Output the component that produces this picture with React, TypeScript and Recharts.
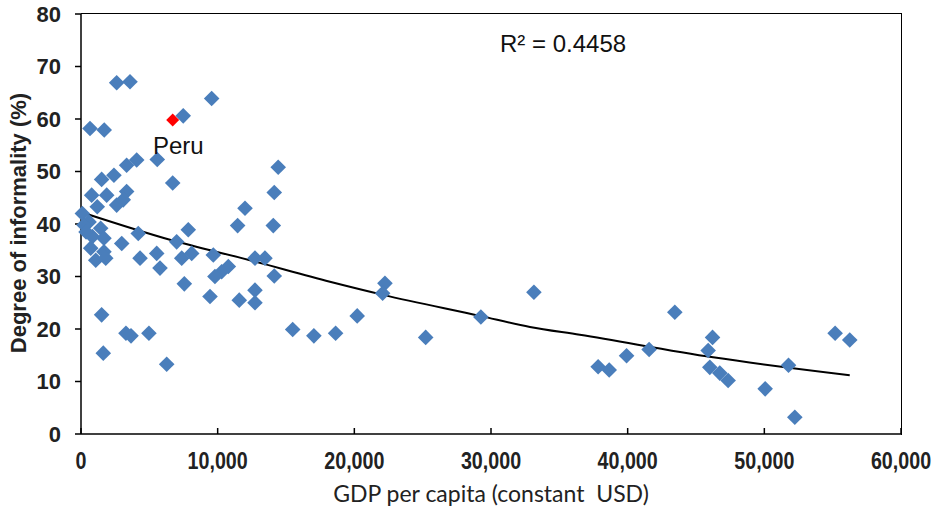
import { ComposedChart, Scatter, Line, XAxis, YAxis } from 'recharts'

// GDP per capita (constant USD) and degree of informality (%) per country
const gdp = [
  2610, 3585, 9560, 7480, 660, 1700, 5580, 4075, 3340, 2410, 1510, 6710, 780, 1880, 3340, 2610, 3090, 12000,
  14430, 14140, 11460, 14070, 7850, 4190, 2980, 7000, 4320, 5540, 5780, 7370, 8100, 9680, 10780, 10290, 9800,
  12730, 13460, 14140, 7560, 12730, 9440, 11580, 12730, 1510, 3290, 3660, 4970, 1630, 6270, 15490, 17040, 18630,
  20210, 22240, 22070, 25220, 29260, 33140, 37840, 38650, 39920, 43450, 41570, 46210, 45890, 46010, 46740, 47350,
  50060, 51770, 52230, 55180, 56250, 100, 590, 1440, 830, 1680, 710, 1680, 1080, 1810, 1190, 220, 370,
]
const informality = [
  66.9, 67.1, 63.9, 60.6, 58.2, 57.9, 52.3, 52.2, 51.2, 49.3, 48.5, 47.8, 45.5, 45.5, 46.2, 43.6, 44.6, 43.0,
  50.8, 46.0, 39.7, 39.7, 38.9, 38.2, 36.3, 36.6, 33.5, 34.4, 31.6, 33.5, 34.4, 34.1, 31.9, 30.9, 30.0,
  33.5, 33.5, 30.1, 28.6, 27.4, 26.2, 25.5, 25.0, 22.7, 19.2, 18.7, 19.2, 15.4, 13.3, 19.9, 18.7, 19.2,
  22.5, 28.7, 26.8, 18.4, 22.3, 27.0, 12.8, 12.2, 14.9, 23.2, 16.1, 18.4, 15.9, 12.7, 11.6, 10.2,
  8.6, 13.1, 3.2, 19.2, 17.9, 42.0, 40.4, 39.2, 37.6, 37.3, 35.4, 34.7, 33.1, 33.5, 43.3, 39.8, 38.5,
]

const peruGdp = [6710]
const peruInformality = [59.8]

// fitted trend line
const trendGdp = [200, 6510, 12360, 18215, 22110, 29190, 32850, 36500, 46250, 56250]
const trendInformality = [42.1, 37.0, 33.1, 29.0, 26.5, 22.5, 20.4, 18.9, 14.6, 11.2]

const xTicks = [0, 10000, 20000, 30000, 40000, 50000, 60000]
const yTicks = [0, 10, 20, 30, 40, 50, 60, 70, 80]

const points = gdp.map((x, i) => ({ x, y: informality[i] }))
const peru = peruGdp.map((x, i) => ({ x, y: peruInformality[i] }))
const trend = trendGdp.map((x, i) => ({ x, y: trendInformality[i] }))

const Diamond = (props: any) => {
  const { cx, cy, fill } = props
  const r = props.r ?? 7.8
  return <polygon points={`${cx},${cy - r} ${cx + r},${cy} ${cx},${cy + r} ${cx - r},${cy}`} fill={fill} />
}

const XTick = (props: any) => {
  const { x, y, payload } = props
  return (
    <g>
      <line x1={x} y1={y - 6} x2={x} y2={y} stroke="#000" strokeWidth={1.5} />
      <text transform={`translate(${x},${y + 35}) scale(0.82,1)`} textAnchor="middle"
        fontFamily="'Liberation Sans', Arial, sans-serif" fontWeight="bold" fontSize={24} fill="#222">
        {payload.value.toLocaleString('en-US')}
      </text>
    </g>
  )
}

export default function App() {
  return (
    <div style={{ position: 'absolute', left: 0, top: 0, width: 937, height: 510, background: '#fff' }}>
      <ComposedChart width={937} height={510} margin={{ top: 14, right: 36, bottom: 0, left: 0 }}>
        <XAxis dataKey="x" type="number" domain={[0, 60000]} ticks={xTicks} height={76}
          axisLine={{ stroke: '#000', strokeWidth: 1.5 }} tickLine={false} tickSize={0} tickMargin={0}
          tick={<XTick />} />
        <YAxis dataKey="y" type="number" domain={[0, 80]} ticks={yTicks} width={81}
          axisLine={{ stroke: '#000', strokeWidth: 1.5 }} tickLine={{ stroke: '#000', strokeWidth: 1.5 }}
          tickSize={6} tickMargin={14}
          tick={{ fontFamily: "'Liberation Sans', Arial, sans-serif", fontWeight: 'bold', fontSize: 22, fill: '#222' }} />
        <Scatter data={points} fill="#4a7ebb" shape={<Diamond />} isAnimationActive={false} />
        <Scatter data={peru} fill="#ff0000" shape={<Diamond r={6.5} />} isAnimationActive={false} />
        <Line data={trend} dataKey="y" type="monotone" stroke="#000" strokeWidth={2} dot={false}
          isAnimationActive={false} />
      </ComposedChart>
      {/* box on top and right of plot */}
      <div style={{ position: 'absolute', left: 81, top: 13, width: 820, height: 421, borderTop: '1.5px solid #000',
        borderRight: '1.5px solid #000', pointerEvents: 'none' }} />
      <div style={{ position: 'absolute', left: 0, top: 223, width: 0, height: 0 }}>
        <div style={{ position: 'absolute', transform: 'translate(-50%, -50%) rotate(-90deg)', left: 19, top: 0,
          whiteSpace: 'nowrap', fontFamily: "'Liberation Sans', Arial, sans-serif", fontWeight: 'bold', fontSize: 22, color: '#222' }}>
          Degree of informality (%)
        </div>
      </div>
      <div style={{ position: 'absolute', left: 81, width: 820, top: 479, textAlign: 'center',
        fontFamily: "Lato, 'Open Sans', sans-serif", fontSize: 23, color: '#222' }}>
        GDP per capita (constant&nbsp; USD)
      </div>
      <div style={{ position: 'absolute', left: 500, top: 30, fontFamily: "'Liberation Sans', Arial, sans-serif",
        fontSize: 24, color: '#111' }}>
        R² = 0.4458
      </div>
      <div style={{ position: 'absolute', left: 153, top: 132, fontFamily: "'Liberation Sans', Arial, sans-serif",
        fontSize: 24, color: '#111' }}>
        Peru
      </div>
    </div>
  )
}
